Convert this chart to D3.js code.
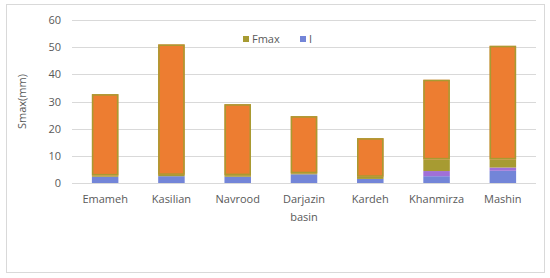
<!DOCTYPE html>
<html>
<head>
<meta charset="utf-8">
<script src="https://cdn.jsdelivr.net/npm/d3@7"></script>
<style>
  body { margin: 0; background: #fff; }
  svg text { font-family: "Open Sans", "Noto Sans", sans-serif; fill: #595959; }
</style>
</head>
<body>
<div id="svg-container"></div>
<script>
// data
const basins = ["Emameh", "Kasilian", "Navrood", "Darjazin", "Kardeh", "Khanmirza", "Mashin"];
const iLow = [2.3, 2.5, 2.3, 3.2, 1.5, 2.5, 4.5];
const iHigh = [0, 0, 0, 0, 0, 1.9, 1.2];
const fmax = [0.5, 0.5, 0.6, 0.4, 0.8, 4.3, 3.0];
const smax = [32.7, 51, 29, 24.6, 16.5, 38, 50.5];
const yTicks = [0, 10, 20, 30, 40, 50, 60];

const width = 550, height = 278;
const margin = { top: 20, right: 14, bottom: 95, left: 72 };

const svg = d3.select("#svg-container").append("svg")
  .attr("width", width).attr("height", height);

// chart border
svg.append("rect")
  .attr("x", 6.5).attr("y", 4.5)
  .attr("width", 538).attr("height", 268)
  .attr("fill", "#fff").attr("stroke", "#d9d9d9");

const rows = basins.map((b, i) => ({
  basin: b,
  iLow: iLow[i],
  iHigh: iHigh[i],
  fmax: fmax[i],
  rest: smax[i] - iLow[i] - iHigh[i] - fmax[i]
}));

const keys = ["iLow", "iHigh", "fmax", "rest"];
const colors = { iLow: "#7385d8", iHigh: "#a070d8", fmax: "#a79b32", rest: "#ed7d31" };

const xScale = d3.scaleBand().domain(basins)
  .range([margin.left, width - margin.right]).paddingInner(0.6).paddingOuter(0.3);
const yScale = d3.scaleLinear().domain([0, 60])
  .range([height - margin.bottom, margin.top]);

// gridlines
svg.append("g").selectAll("line").data(yTicks).enter().append("line")
  .attr("x1", margin.left).attr("x2", width - margin.right)
  .attr("y1", d => Math.round(yScale(d)) + 0.5)
  .attr("y2", d => Math.round(yScale(d)) + 0.5)
  .attr("stroke", "#d9d9d9");

// y tick labels
svg.append("g").selectAll("text").data(yTicks).enter().append("text")
  .attr("x", 61).attr("y", d => yScale(d) + 4)
  .attr("text-anchor", "end").attr("font-size", 11)
  .text(d => d);

// stacked bars
const stack = d3.stack().keys(keys)(rows);
svg.append("g").selectAll("g").data(stack).enter().append("g")
  .attr("fill", d => colors[d.key])
  .selectAll("rect").data(d => d).enter().append("rect")
  .attr("x", d => xScale(d.data.basin))
  .attr("width", xScale.bandwidth())
  .attr("y", d => yScale(d[1]))
  .attr("height", d => yScale(d[0]) - yScale(d[1]));

// olive outline around the orange part
svg.append("g").selectAll("rect").data(stack[3]).enter().append("rect")
  .attr("x", d => xScale(d.data.basin) + 0.75)
  .attr("width", xScale.bandwidth() - 1.5)
  .attr("y", d => yScale(d[1]) + 0.75)
  .attr("height", d => yScale(d[0]) - yScale(d[1]) - 1.5)
  .attr("fill", "none").attr("stroke", colors.fmax).attr("stroke-width", 1.5);

// x labels
svg.append("g").selectAll("text").data(basins).enter().append("text")
  .attr("x", d => xScale(d) + xScale.bandwidth() / 2)
  .attr("y", height - margin.bottom + 20)
  .attr("text-anchor", "middle").attr("font-size", 11)
  .text(d => d);

// axis titles
svg.append("text")
  .attr("x", (margin.left + width - margin.right) / 2).attr("y", 221)
  .attr("text-anchor", "middle").attr("font-size", 11)
  .text("basin");

svg.append("text")
  .attr("transform", `translate(26, ${(margin.top + height - margin.bottom) / 2}) rotate(-90)`)
  .attr("text-anchor", "middle").attr("font-size", 11)
  .text("Smax(mm)");

// legend
const legend = [{ name: "Fmax", color: colors.fmax, x: 243 }, { name: "I", color: colors.iLow, x: 300 }];
const lg = svg.append("g").selectAll("g").data(legend).enter().append("g")
  .attr("transform", d => `translate(${d.x}, 36)`);
lg.append("rect").attr("width", 6).attr("height", 6).attr("fill", d => d.color);
lg.append("text").attr("x", 9).attr("y", 7).attr("font-size", 11).text(d => d.name);
</script>
</body>
</html>
